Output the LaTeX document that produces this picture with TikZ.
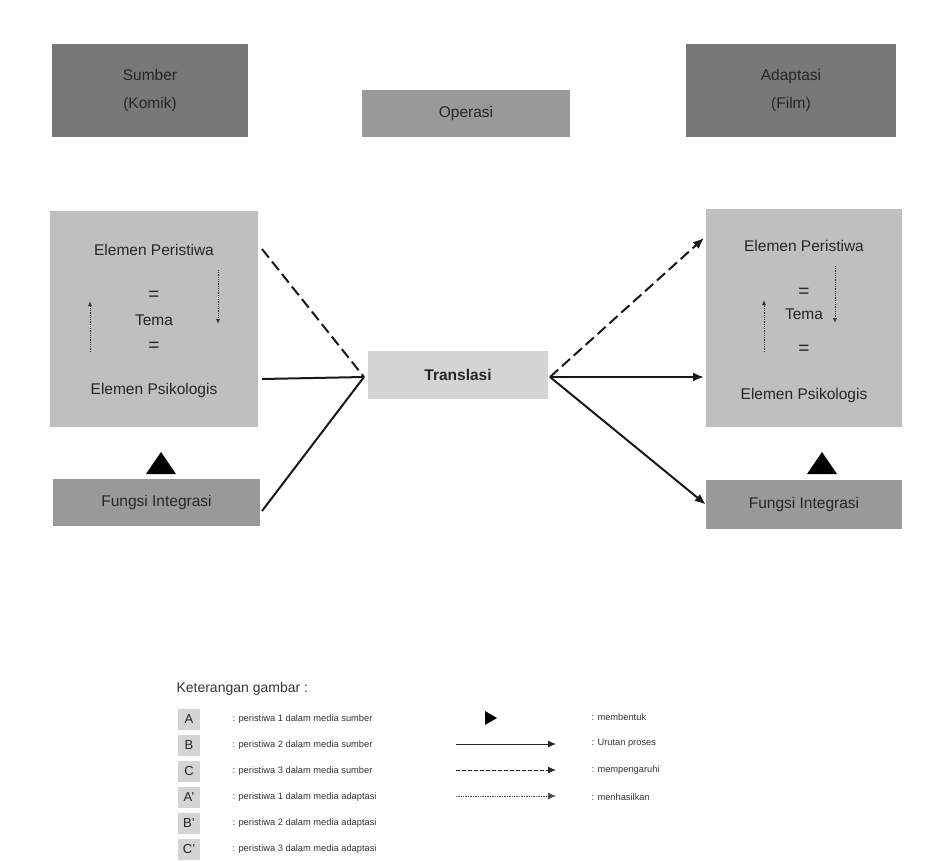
\documentclass[tikz,border=0pt]{standalone}
\usepackage{fontspec}
\setmainfont{Liberation Sans}
\usetikzlibrary{arrows.meta, positioning}

\begin{document}
\begin{tikzpicture}[
    x=1pt, y=-1pt,
    box/.style={rectangle, inner sep=0pt, align=center, text=black!85},
    dark/.style={box, fill=black!53},
    mid/.style={box, fill=black!40},
    light/.style={box, fill=black!25},
    pale/.style={box, fill=black!17},
    line/.style={line width=2pt, black!90},
    arrow/.style={line, -{Latex[length=11pt, width=9pt]}},
    dotarrow/.style={densely dotted, line width=0.8pt, black!80, -{Latex[length=5pt, width=4pt]}},
    legbox/.style={box, fill=black!17, minimum width=22pt, minimum height=21pt, font=\fontsize{13}{15}\selectfont},
    legtext/.style={anchor=west, font=\fontsize{9.3}{11}\selectfont, text=black!80},
    big/.style={font=\fontsize{15.5}{18}\selectfont, text=black!85},
    eq/.style={font=\fontsize{19}{20}\selectfont, text=black!85}
]
\useasboundingbox (0,0) rectangle (934,860);

% Kepala
\node[dark, big, minimum width=196pt, minimum height=93pt] (sumber) at (150,90.5) {Sumber\\[10pt](Komik)};
\node[mid, big, minimum width=208pt, minimum height=47pt] (operasi) at (466,113.5) {Operasi};
\node[dark, big, minimum width=210pt, minimum height=93pt] (adaptasi) at (791,90.5) {Adaptasi\\[10pt](Film)};

% Kotak utama
\node[light, minimum width=208pt, minimum height=216pt] (src) at (154,319) {};
\node[light, minimum width=196pt, minimum height=218pt] (dst) at (804,318) {};
\node[pale, big, minimum width=180pt, minimum height=48pt, font=\fontsize{15.5}{18}\selectfont\bfseries] (trans) at (458,375) {Translasi};
\node[mid, big, minimum width=207pt, minimum height=47pt] (fungsiA) at (156.5,502.5) {Fungsi Integrasi};
\node[mid, big, minimum width=196pt, minimum height=49pt] (fungsiB) at (804,504.5) {Fungsi Integrasi};

% Isi kotak kiri
\node[big] (pA) at (154,250) {Elemen Peristiwa};
\node[eq] (eqA1) at (154,296) {=};
\node[big] (temaA) at (154,320) {Tema};
\node[eq] (eqA2) at (154,347) {=};
\node[big] (psA) at (154,390) {Elemen Psikologis};
\coordinate (upA1) at (90,352); \coordinate (upA2) at (90,301);
\coordinate (dnA1) at (218,270); \coordinate (dnA2) at (218,324);
\draw[dotarrow] (upA1) -- (upA2);
\draw[dotarrow] (dnA1) -- (dnA2);

% Isi kotak kanan
\node[big] (pB) at (804,246) {Elemen Peristiwa};
\node[eq] (eqB1) at (804,293) {=};
\node[big] (temaB) at (804,314) {Tema};
\node[eq] (eqB2) at (804,350) {=};
\node[big] (psB) at (804,395) {Elemen Psikologis};
\coordinate (upB1) at (764,352); \coordinate (upB2) at (764,300);
\coordinate (dnB1) at (835,266); \coordinate (dnB2) at (835,323);
\draw[dotarrow] (upB1) -- (upB2);
\draw[dotarrow] (dnB1) -- (dnB2);

% Segitiga membentuk
\fill[black] (146,474) -- (176,474) -- (161,452) -- cycle;
\fill[black] (807,474) -- (837,474) -- (822,452) -- cycle;

% Garis ke Translasi
\coordinate (inL) at (364,377);
\coordinate (outR) at (550,377);
\coordinate (sA1) at (262,249);
\coordinate (sA2) at (262,379);
\coordinate (sA3) at (262,511);
\coordinate (tB1) at (704,238);
\coordinate (tB2) at (704,377);
\draw[line, dash pattern=on 11pt off 5pt] (sA1) -- (inL);
\draw[line] (sA2) -- (inL);
\draw[line] (sA3) -- (inL);
\draw[arrow, dash pattern=on 11pt off 5pt] (outR) -- (tB1);
\draw[arrow] (outR) -- (tB2);
\draw[arrow] (outR) -- (fungsiB.west);

% Keterangan
\node[anchor=west, font=\fontsize{14}{16}\selectfont, text=black!80] (ket) at (173,689) {Keterangan gambar :};
\foreach \k/\lab/\txt/\yy in {a/A/peristiwa 1 dalam media sumber/719,
    b/B/peristiwa 2 dalam media sumber/745,
    c/C/peristiwa 3 dalam media sumber/771,
    d/A'/peristiwa 1 dalam media adaptasi/797,
    e/B'/peristiwa 2 dalam media adaptasi/823,
    f/C'/peristiwa 3 dalam media adaptasi/849}{
  \node[legbox] (l\k) at (189,\yy) {\lab};
  \node[legtext] at (229,\yy) {: \txt};
}
\fill[black] (485,711) -- (485,725) -- (497,718) -- cycle;
\coordinate (m1) at (456,744); \coordinate (m2) at (556,744);
\coordinate (n1) at (456,770); \coordinate (n2) at (556,770);
\coordinate (o1) at (456,796); \coordinate (o2) at (556,796);
\draw[black!85, line width=0.9pt, -{Latex[length=8pt, width=7pt]}] (m1) -- (m2);
\draw[black!85, line width=0.9pt, dash pattern=on 4pt off 2pt, -{Latex[length=8pt, width=7pt]}] (n1) -- (n2);
\draw[black!70, line width=0.7pt, densely dotted, -{Latex[length=8pt, width=7pt]}] (o1) -- (o2);
\node[legtext] at (588,717) {: membentuk};
\node[legtext] at (588,743) {: Urutan proses};
\node[legtext] at (588,770) {: mempengaruhi};
\node[legtext] at (588,797) {: menhasilkan};
\end{tikzpicture}
\end{document}
